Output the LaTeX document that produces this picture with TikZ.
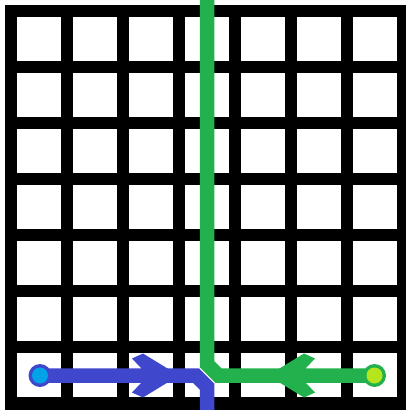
\documentclass[tikz,border=0pt]{standalone}
\definecolor{pgreen}{RGB}{34,177,76}
\definecolor{pblue}{RGB}{63,72,204}
\definecolor{pcyan}{RGB}{0,162,232}
\definecolor{plime}{RGB}{181,230,29}
\begin{document}
\begin{tikzpicture}[x=1pt,y=-1pt,
  track/.style={line width=14.5pt, line join=miter, line cap=butt},
  outerdot/.style={circle, inner sep=0pt, minimum size=23pt},
  innerdot/.style={circle, inner sep=0pt, minimum size=16pt}]
\useasboundingbox (0,0) rectangle (406,410);
\clip (0,0) rectangle (406,410);
% board
\fill[white] (0,0) rectangle (406,410);
\fill[black] (5,5) rectangle (406,410);
\foreach \i in {0,...,6}
  \foreach \j in {0,...,6}
    \fill[white] ({17+56*\i},{17+56*\j}) rectangle ++(44,44);
% path anchors
\coordinate (bstart) at (40,375.5);
\coordinate (bturn1) at (196,375.5);
\coordinate (bturn2) at (207,386.5);
\coordinate (bend) at (207,412);
\coordinate (gstart) at (374.5,375.5);
\coordinate (gturn1) at (218.5,375.5);
\coordinate (gturn2) at (207,364);
\coordinate (gend) at (207,-2);
% tracks
\draw[track, pblue] (bstart) -- (bturn1) -- (bturn2) -- (bend);
\draw[track, pgreen] (gstart) -- (gturn1) -- (gturn2) -- (gend);
% arrowheads
\fill[pblue] (179,375.5) -- (143,353.5) -- (132,358.5) -- (141,368) -- (141,383)
  -- (132,392.5) -- (143,397.5) -- cycle;
\fill[pgreen] (268,375.5) -- (304,353.5) -- (315,358.5) -- (306,368) -- (306,383)
  -- (315,392.5) -- (304,397.5) -- cycle;
% end dots
\node[outerdot, fill=pblue] (bdot) at (bstart) {};
\node[innerdot, fill=pcyan] (bdotin) at (bstart) {};
\node[outerdot, fill=pgreen] (gdot) at (gstart) {};
\node[innerdot, fill=plime] (gdotin) at (gstart) {};
\end{tikzpicture}
\end{document}
